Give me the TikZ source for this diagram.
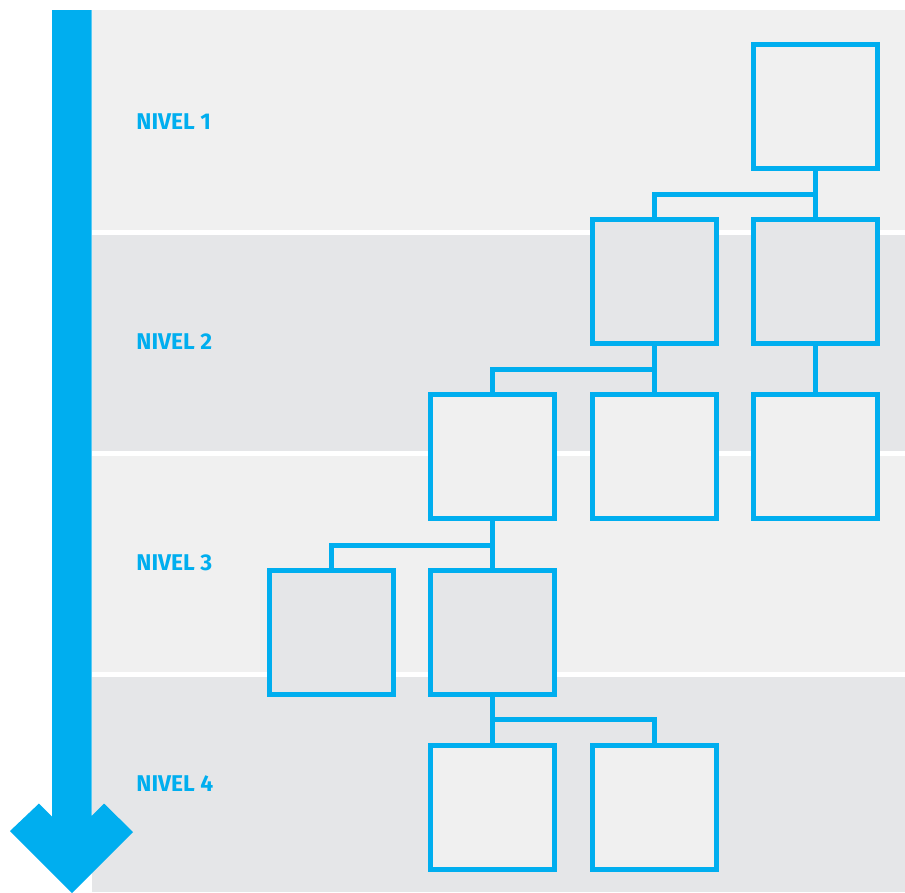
\documentclass[tikz,border=0pt]{standalone}
\usepackage{fontspec}
\setmainfont{Fira Sans}
\definecolor{cyanblue}{HTML}{00AEEF}
\definecolor{bandlight}{HTML}{F0F0F0}
\definecolor{banddark}{HTML}{E5E6E8}
\tikzset{
  box/.style={draw=cyanblue, line width=5pt, minimum size=124pt, inner sep=0pt, rectangle},
  lightbox/.style={box, fill=bandlight},
  darkbox/.style={box, fill=banddark},
  conn/.style={draw=cyanblue, line width=5pt},
  lvl/.style={anchor=west, inner sep=0pt, text=cyanblue, font=\fontsize{22.8}{25}\selectfont\bfseries},
}
\begin{document}
\begin{tikzpicture}[x=1pt,y=-1pt]
\useasboundingbox (0,0) rectangle (905,892);
\fill[white] (0,0) rectangle (905,892);
% bands
\fill[bandlight] (91.7,10) rectangle (905,230);
\fill[banddark] (91.7,235) rectangle (905,451);
\fill[bandlight] (91.7,456) rectangle (905,672);
\fill[banddark] (91.7,677) rectangle (905,892);
% arrow
\fill[cyanblue] (52,10) -- (91.7,10) -- (91.7,816) -- (104,803.5) -- (133,832)
  -- (72,893) -- (10,831) -- (39,803.5) -- (52,816.5) -- cycle;
% labels
\node[lvl] (l1) at (136.2,121.7) {NIVEL 1};
\node[lvl] (l2) at (136.2,341.7) {NIVEL 2};
\node[lvl] (l3) at (136.2,563) {NIVEL 3};
\node[lvl] (l4) at (136.2,784) {NIVEL 4};
% boxes
\node[lightbox] (D1) at (815.8,106.2) {};
\node[darkbox] (C2) at (654.2,281.2) {};
\node[darkbox] (D2) at (815.8,281.2) {};
\node[lightbox] (B3) at (492.8,456.5) {};
\node[lightbox] (C3) at (654.2,456.5) {};
\node[lightbox] (D3) at (815.8,456.5) {};
\node[darkbox] (A4) at (331.5,632.2) {};
\node[darkbox] (B4) at (492.8,632.2) {};
\node[lightbox] (B5) at (492.8,807.3) {};
\node[lightbox] (C5) at (654.2,807.3) {};
% junctions
\coordinate (j1) at (815.8,194);
\coordinate (j2) at (654.2,369.8);
\coordinate (j3) at (492.8,545);
\coordinate (j4) at (492.8,719.8);
% connectors
\draw[conn] (D1.south) -- (D2.north);
\draw[conn] (C2.north) |- (j1);
\draw[conn] (C2.south) -- (C3.north);
\draw[conn] (B3.north) |- (j2);
\draw[conn] (D2.south) -- (D3.north);
\draw[conn] (B3.south) -- (B4.north);
\draw[conn] (A4.north) |- (j3);
\draw[conn] (B4.south) -- (B5.north);
\draw[conn] (C5.north) |- (j4);
\end{tikzpicture}
\end{document}
